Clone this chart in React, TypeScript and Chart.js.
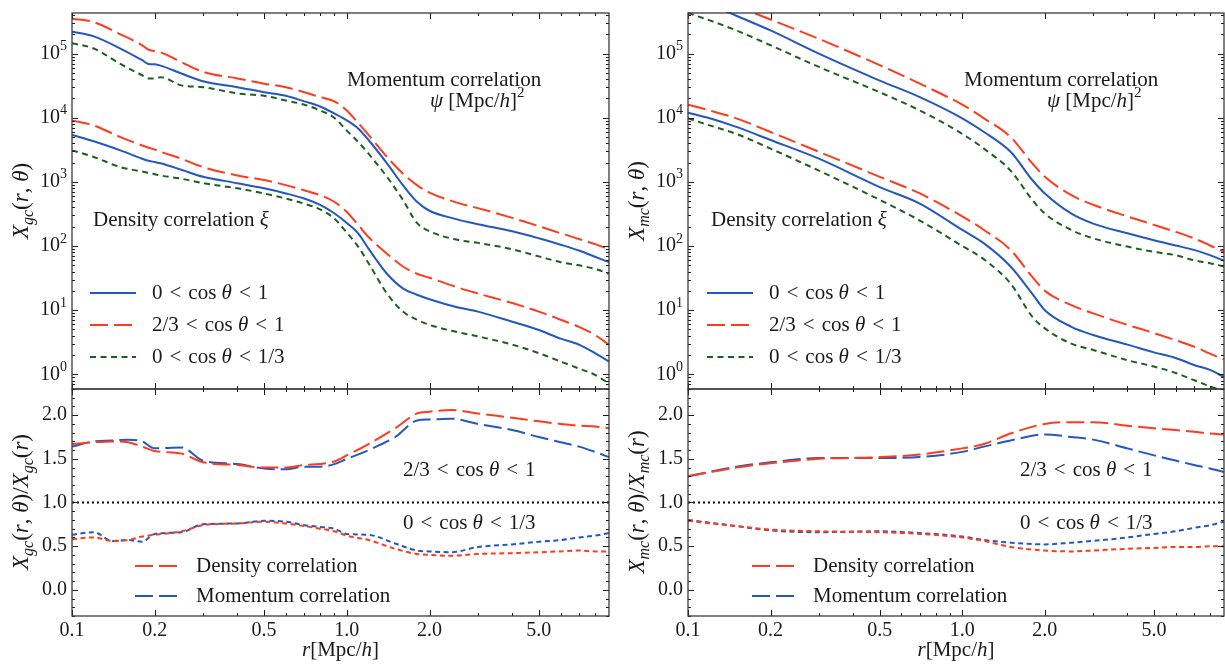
import React, { useEffect, useRef } from 'react';
import { Chart, registerables } from 'chart.js';

Chart.register(...registerables);

// ---- left column: galaxy-centre correlations X_gc ----
const rG = [0.1, 0.12, 0.15, 0.18, 0.19, 0.2, 0.21, 0.25, 0.3, 0.4, 0.5, 0.6, 0.7, 0.8, 0.9, 1.0, 1.1, 1.2, 1.4, 1.6, 1.8, 2.0, 2.5, 3.0, 4.0, 5.0, 6.0, 7.0, 8.0, 9.0];
const psiAllG = [2.2e5, 1.86e5, 1.2e5, 7.9e4, 6.9e4, 6.8e4, 6.5e4, 4.9e4, 3.7e4, 3.0e4, 2.5e4, 2.2e4, 1.8e4, 1.5e4, 1.17e4, 9100, 6800, 4500, 1950, 890, 490, 355, 263, 219, 170, 132, 105, 85, 68, 56];
const psiParG = [3.5e5, 3.1e5, 2.0e5, 1.35e5, 1.15e5, 1.1e5, 1.05e5, 7.4e4, 5.2e4, 4.1e4, 3.4e4, 3.0e4, 2.5e4, 2.1e4, 1.8e4, 1.3e4, 8300, 5400, 2450, 1350, 890, 680, 480, 390, 275, 204, 158, 129, 107, 89];
const psiPerpG = [1.45e5, 1.2e5, 6.9e4, 4.6e4, 4.1e4, 4.1e4, 4.3e4, 3.2e4, 3.0e4, 2.4e4, 2.2e4, 1.86e4, 1.6e4, 1.3e4, 1.0e4, 6300, 4200, 2750, 1200, 525, 229, 170, 126, 112, 89, 69, 56, 50, 44, 37];
const xiAllG = [5400, 4300, 3100, 2300, 2140, 2040, 1950, 1550, 1200, 955, 794, 661, 550, 437, 324, 229, 158, 91, 37, 21.9, 17.4, 14.8, 11.2, 9.5, 6.6, 4.9, 3.6, 2.9, 2.14, 1.58];
const xiParG = [9100, 7600, 5000, 3700, 3400, 3200, 2950, 2300, 1700, 1260, 1070, 890, 740, 620, 490, 340, 214, 138, 76, 48, 37, 32, 23, 18.2, 12.9, 9.5, 7.1, 5.5, 4.1, 2.9];
const xiPerpG = [3100, 2450, 1700, 1450, 1380, 1320, 1260, 1120, 955, 794, 661, 550, 457, 372, 269, 162, 98, 54, 18.2, 9.5, 7.1, 5.9, 4.6, 3.9, 2.9, 2.14, 1.58, 1.23, 0.98, 0.72];

const rGRatio = [0.1, 0.12, 0.14, 0.16, 0.18, 0.2, 0.25, 0.3, 0.4, 0.5, 0.6, 0.7, 0.8, 0.9, 1.0, 1.2, 1.5, 1.8, 2.0, 2.4, 3.0, 4.0, 5.0, 6.0, 7.0, 8.0, 9.0];
const densParG = [1.67, 1.69, 1.70, 1.69, 1.64, 1.59, 1.56, 1.46, 1.43, 1.40, 1.40, 1.43, 1.44, 1.47, 1.54, 1.67, 1.85, 2.02, 2.04, 2.06, 2.02, 1.97, 1.93, 1.90, 1.88, 1.87, 1.85];
const momParG = [1.64, 1.70, 1.71, 1.72, 1.70, 1.62, 1.63, 1.48, 1.44, 1.39, 1.38, 1.41, 1.41, 1.44, 1.50, 1.60, 1.75, 1.94, 1.95, 1.96, 1.90, 1.83, 1.75, 1.69, 1.64, 1.58, 1.52];
const densPerpG = [0.58, 0.60, 0.56, 0.57, 0.61, 0.63, 0.67, 0.74, 0.76, 0.78, 0.76, 0.73, 0.70, 0.67, 0.62, 0.57, 0.47, 0.41, 0.40, 0.39, 0.41, 0.42, 0.43, 0.44, 0.45, 0.44, 0.44];
const momPerpG = [0.63, 0.66, 0.56, 0.57, 0.55, 0.64, 0.66, 0.75, 0.76, 0.79, 0.78, 0.74, 0.72, 0.70, 0.64, 0.63, 0.53, 0.45, 0.44, 0.43, 0.49, 0.52, 0.55, 0.57, 0.60, 0.62, 0.65];

// ---- right column: matter-centre correlations X_mc ----
const rM = [0.1, 0.12, 0.15, 0.2, 0.3, 0.5, 0.7, 1.0, 1.2, 1.5, 1.8, 2.0, 2.5, 3.0, 4.0, 5.0, 6.0, 7.0, 8.0, 9.0];
const psiAllM = [8.1e5, 5.9e5, 3.9e5, 2.3e5, 1.0e5, 3.8e4, 2.1e4, 9800, 6000, 2950, 1070, 660, 320, 224, 158, 123, 102, 87, 72, 59];
const psiParM = [1.07e6, 7.9e5, 5.5e5, 3.4e5, 1.7e5, 6.6e4, 3.4e4, 1.6e4, 9800, 5000, 1950, 1200, 620, 440, 290, 214, 166, 132, 102, 81];
const psiPerpM = [4.3e5, 3.3e5, 2.3e5, 1.35e5, 6.2e4, 2.5e4, 1.3e4, 5600, 3300, 1500, 525, 320, 178, 132, 98, 81, 72, 60, 54, 48];
const xiAllM = [1.2e4, 9800, 7200, 4500, 2300, 830, 460, 178, 110, 48, 18, 10, 5.5, 4.1, 2.9, 2.2, 1.8, 1.4, 1.17, 0.91];
const xiParM = [1.6e4, 1.3e4, 9800, 6000, 2950, 1200, 660, 290, 178, 87, 33, 20, 12, 8.9, 5.9, 4.4, 3.4, 2.7, 2.1, 1.7];
const xiPerpM = [9800, 7600, 5600, 3300, 1500, 525, 250, 100, 62, 26, 7.9, 5.2, 3.0, 2.4, 1.66, 1.32, 1.05, 0.81, 0.65, 0.54];

const rMRatio = [0.1, 0.15, 0.2, 0.3, 0.5, 0.7, 1.0, 1.2, 1.5, 2.0, 2.5, 3.0, 4.0, 5.0, 6.0, 7.0, 8.0, 9.0];
const densParM = [1.30, 1.40, 1.45, 1.50, 1.52, 1.55, 1.62, 1.67, 1.79, 1.90, 1.92, 1.92, 1.88, 1.85, 1.83, 1.81, 1.79, 1.78];
const momParM = [1.30, 1.41, 1.46, 1.51, 1.51, 1.52, 1.58, 1.64, 1.71, 1.78, 1.75, 1.72, 1.62, 1.54, 1.48, 1.43, 1.39, 1.35];
const densPerpM = [0.79, 0.73, 0.69, 0.67, 0.66, 0.64, 0.60, 0.56, 0.49, 0.45, 0.44, 0.45, 0.47, 0.48, 0.49, 0.49, 0.50, 0.50];
const momPerpM = [0.80, 0.73, 0.68, 0.66, 0.67, 0.65, 0.61, 0.57, 0.54, 0.52, 0.54, 0.56, 0.60, 0.64, 0.67, 0.71, 0.74, 0.78];

const unityR = [0.1, 9.0];
const unity = [1, 1];

// axis ticks
const xMajor = [0.1, 0.2, 0.5, 1, 2, 5];
const xMinor = [0.3, 0.4, 0.6, 0.7, 0.8, 0.9, 3, 4, 6, 7, 8];
const logMajor = [1, 10, 100, 1e3, 1e4, 1e5];
const ratioMajor = [0, 0.5, 1.0, 1.5, 2.0];

const FONT = '"Liberation Serif", "DejaVu Serif", serif';
const BLUE = '#2357c2';
const RED = '#ff3b1d';
const GREEN = '#1d5f1d';
const INK = '#1a1a1a';
const LONG = [18, 6];
const SHORT = [6, 4.5];
const SHORT_R = [5, 3.5];
const SP = '\u2004'; // a bit wider than a normal space, like TeX's relation spacing

type Seg = { t: string; it?: boolean; sub?: boolean; sup?: boolean };
type Label = { segs: Seg[]; x: number; y: number; size?: number; align?: 'left' | 'center' | 'right'; rot?: boolean };
type Key = { x1: number; x2: number; y: number; color: string; dash: number[]; tx: number; segs: Seg[] };

const segFont = (s: Seg, size: number) =>
  `${s.it ? 'italic ' : ''}${s.sub || s.sup ? Math.round(size * 0.7) : size}px ${FONT}`;

function drawRich(ctx: CanvasRenderingContext2D, l: Label) {
  const size = l.size ?? 21;
  let w = 0;
  for (const s of l.segs) {
    ctx.font = segFont(s, size);
    w += ctx.measureText(s.t).width;
  }
  ctx.save();
  ctx.translate(l.x, l.y);
  if (l.rot) ctx.rotate(-Math.PI / 2);
  let cx = l.align === 'center' ? -w / 2 : l.align === 'right' ? -w : 0;
  ctx.textAlign = 'left';
  ctx.textBaseline = 'middle';
  ctx.fillStyle = INK;
  for (const s of l.segs) {
    ctx.font = segFont(s, size);
    const dy = s.sub ? size * 0.3 : s.sup ? -size * 0.36 : 0;
    ctx.fillText(s.t, cx, dy);
    cx += ctx.measureText(s.t).width;
  }
  ctx.restore();
}

const ineq = (lo: string, hi: string): Seg[] => [
  { t: lo + SP + '<' + SP + 'cos ' },
  { t: 'θ', it: true },
  { t: SP + '<' + SP + hi },
];
const xName = (sub: string): Seg[] => [{ t: 'X', it: true }, { t: sub, it: true, sub: true }];
const rTheta: Seg[] = [{ t: '(' }, { t: 'r', it: true }, { t: ', ' }, { t: 'θ', it: true }, { t: ')' }];
const rOnly: Seg[] = [{ t: '(' }, { t: 'r', it: true }, { t: ')' }];
const rUnit: Seg[] = [{ t: 'r', it: true }, { t: '[Mpc/' }, { t: 'h', it: true }, { t: ']' }];
const momText: Seg[] = [{ t: 'Momentum correlation' }];
const psiText: Seg[] = [{ t: 'ψ', it: true }, { t: ' [Mpc/' }, { t: 'h', it: true }, { t: ']' }, { t: '2', sup: true }];
const densText: Seg[] = [{ t: 'Density correlation ' }, { t: 'ξ', it: true }];

const line = (xs: number[], ys: number[], color: string, dash: number[], width = 2) => ({
  data: xs.map((x, i) => ({ x, y: ys[i] })),
  borderColor: color,
  backgroundColor: color,
  borderWidth: width,
  borderDash: dash,
  pointRadius: 0,
  fill: false,
  cubicInterpolationMode: 'monotone',
  clip: 1,
});

interface Spec {
  left: number;
  top: number;
  width: number;
  height: number;
  pad: { left: number; top: number; right: number; bottom: number };
  bottomAxis: boolean;
  log: boolean;
  yMin: number;
  yMax: number;
  datasets: any[];
  labels: Label[];
  keys: Key[];
}

function makeDeco(spec: Spec, yMinor: number[], yMajor: number[]) {
  return {
    id: 'deco',
    afterDraw(chart: any) {
      const ctx: CanvasRenderingContext2D = chart.ctx;
      const a = chart.chartArea;
      const xs = chart.scales.x;
      const ys = chart.scales.y;
      ctx.save();
      ctx.strokeStyle = INK;
      ctx.lineWidth = 1;
      const tickX = (vals: number[], len: number) =>
        vals.forEach((v) => {
          const p = Math.round(xs.getPixelForValue(v)) + 0.5;
          ctx.beginPath();
          ctx.moveTo(p, a.bottom);
          ctx.lineTo(p, a.bottom - len);
          ctx.moveTo(p, a.top);
          ctx.lineTo(p, a.top + len);
          ctx.stroke();
        });
      const tickY = (vals: number[], len: number) =>
        vals.forEach((v) => {
          const p = Math.round(ys.getPixelForValue(v)) + 0.5;
          ctx.beginPath();
          ctx.moveTo(a.left, p);
          ctx.lineTo(a.left + len, p);
          ctx.moveTo(a.right, p);
          ctx.lineTo(a.right - len, p);
          ctx.stroke();
        });
      tickX(xMajor, 6);
      tickX(xMinor, 3);
      tickY(yMajor, 6);
      tickY(yMinor, 3);
      ctx.strokeStyle = '#3a3a3a';
      ctx.lineWidth = 1.3;
      ctx.strokeRect(a.left, a.top, a.right - a.left, a.bottom - a.top);

      // log axis labels 10^n, drawn with a real superscript
      if (spec.log) {
        yMajor.forEach((v) => {
          const p = ys.getPixelForValue(v);
          drawRich(ctx, {
            segs: [{ t: '10' }, { t: String(Math.round(Math.log10(v))), sup: true }],
            x: a.left - 5,
            y: p,
            size: 20,
            align: 'right',
          });
        });
      }

      for (const k of spec.keys) {
        ctx.strokeStyle = k.color;
        ctx.lineWidth = 2;
        ctx.setLineDash(k.dash);
        ctx.beginPath();
        ctx.moveTo(k.x1 - spec.left, k.y - spec.top);
        ctx.lineTo(k.x2 - spec.left, k.y - spec.top);
        ctx.stroke();
        ctx.setLineDash([]);
        drawRich(ctx, { segs: k.segs, x: k.tx - spec.left, y: k.y - spec.top });
      }
      for (const l of spec.labels) {
        drawRich(ctx, { ...l, x: l.x - spec.left, y: l.y - spec.top });
      }
      ctx.restore();
    },
  };
}

function buildConfig(spec: Spec): any {
  const yMajor = spec.log ? logMajor : ratioMajor;
  const yMinor: number[] = [];
  if (spec.log) {
    for (let e = -1; e <= 5; e++) {
      for (let k = 2; k <= 9; k++) {
        const v = k * Math.pow(10, e);
        if (v > spec.yMin && v < spec.yMax) yMinor.push(v);
      }
    }
  } else {
    for (let k = -3; k <= 23; k++) if (k % 5 !== 0) yMinor.push(k / 10);
  }
  const tickFont = { family: FONT, size: 20 };
  return {
    type: 'line',
    data: { datasets: spec.datasets },
    options: {
      responsive: false,
      maintainAspectRatio: false,
      animation: false,
      events: [],
      layout: { padding: spec.pad },
      plugins: { legend: { display: false }, tooltip: { enabled: false } },
      scales: {
        x: {
          type: 'logarithmic',
          min: 0.1,
          max: 9.0,
          bounds: 'data',
          display: spec.bottomAxis,
          grid: { display: false, drawTicks: false },
          border: { display: false },
          afterBuildTicks: (s: any) => {
            s.ticks = xMajor.map((value) => ({ value }));
          },
          afterFit: (s: any) => {
            s.height = spec.bottomAxis ? 48 : 0;
            s.paddingLeft = 0;
            s.paddingRight = 0;
          },
          ticks: {
            font: tickFont,
            color: INK,
            padding: 3,
            maxRotation: 0,
            autoSkip: false,
            callback: (v: any) => Number(v).toFixed(1),
          },
        },
        y: {
          type: spec.log ? 'logarithmic' : 'linear',
          min: spec.yMin,
          max: spec.yMax,
          bounds: 'data',
          grid: { display: false, drawTicks: false },
          border: { display: false },
          afterBuildTicks: (s: any) => {
            s.ticks = yMajor.map((value) => ({ value }));
          },
          afterFit: (s: any) => {
            s.width = 72;
            s.paddingTop = 0;
            s.paddingBottom = 0;
          },
          ticks: {
            display: !spec.log,
            font: tickFont,
            color: INK,
            padding: 5,
            autoSkip: false,
            callback: (v: any) => Number(v).toFixed(1),
          },
        },
      },
    },
    plugins: [makeDeco(spec, yMinor, yMajor)],
  };
}

function Panel({ spec }: { spec: Spec }) {
  const ref = useRef<HTMLCanvasElement>(null);
  useEffect(() => {
    if (!ref.current) return;
    const chart = new Chart(ref.current, buildConfig(spec));
    return () => chart.destroy();
  }, [spec]);
  return (
    <canvas
      ref={ref}
      width={spec.width}
      height={spec.height}
      style={{ position: 'absolute', left: spec.left, top: spec.top, width: spec.width, height: spec.height }}
    />
  );
}

const topKeys = (lineL: number, textL: number): Key[] => [
  { x1: lineL, x2: lineL + 46, y: 293, color: BLUE, dash: [], tx: textL, segs: ineq('0', '1') },
  { x1: lineL, x2: lineL + 46, y: 325, color: RED, dash: LONG, tx: textL, segs: ineq('2/3', '1') },
  { x1: lineL, x2: lineL + 46, y: 357, color: GREEN, dash: SHORT, tx: textL, segs: ineq('0', '1/3') },
];
const bottomKeys = (lineL: number, textL: number): Key[] => [
  { x1: lineL, x2: lineL + 43, y: 566, color: RED, dash: LONG, tx: textL, segs: [{ t: 'Density correlation' }] },
  { x1: lineL, x2: lineL + 43, y: 596, color: BLUE, dash: LONG, tx: textL, segs: [{ t: 'Momentum correlation' }] },
];

const specs: Spec[] = [
  {
    left: 0, top: 0, width: 620, height: 392,
    pad: { left: 0, top: 13, right: 11, bottom: 3 },
    bottomAxis: false, log: true, yMin: 0.59, yMax: 4.3e5,
    datasets: [
      line(rG, psiParG, RED, LONG), line(rG, psiAllG, BLUE, []), line(rG, psiPerpG, GREEN, SHORT),
      line(rG, xiParG, RED, LONG), line(rG, xiAllG, BLUE, []), line(rG, xiPerpG, GREEN, SHORT),
    ],
    labels: [
      { segs: [...xName('gc'), ...rTheta], x: 22, y: 201, size: 23, align: 'center', rot: true },
      { segs: momText, x: 347, y: 80 },
      { segs: psiText, x: 430, y: 101 },
      { segs: densText, x: 93, y: 220 },
    ],
    keys: topKeys(90, 152),
  },
  {
    left: 0, top: 386, width: 620, height: 278,
    pad: { left: 0, top: 3, right: 11, bottom: 0 },
    bottomAxis: true, log: false, yMin: -0.3, yMax: 2.3,
    datasets: [
      line(unityR, unity, '#000', [2, 3], 2),
      line(rGRatio, densParG, RED, LONG), line(rGRatio, momParG, BLUE, LONG),
      line(rGRatio, densPerpG, RED, SHORT_R), line(rGRatio, momPerpG, BLUE, SHORT_R),
    ],
    labels: [
      { segs: [...xName('gc'), ...rTheta, { t: '/' }, ...xName('gc'), ...rOnly], x: 22, y: 502, size: 23, align: 'center', rot: true },
      { segs: rUnit, x: 340.5, y: 650, align: 'center' },
      { segs: ineq('2/3', '1'), x: 403, y: 470 },
      { segs: ineq('0', '1/3'), x: 403, y: 523 },
    ],
    keys: bottomKeys(135, 196),
  },
  {
    left: 616, top: 0, width: 610, height: 392,
    pad: { left: 0, top: 13, right: 2, bottom: 3 },
    bottomAxis: false, log: true, yMin: 0.59, yMax: 4.3e5,
    datasets: [
      line(rM, psiParM, RED, LONG), line(rM, psiAllM, BLUE, []), line(rM, psiPerpM, GREEN, SHORT),
      line(rM, xiParM, RED, LONG), line(rM, xiAllM, BLUE, []), line(rM, xiPerpM, GREEN, SHORT),
    ],
    labels: [
      { segs: [...xName('mc'), ...rTheta], x: 638, y: 201, size: 23, align: 'center', rot: true },
      { segs: momText, x: 964, y: 80 },
      { segs: psiText, x: 1047, y: 101 },
      { segs: densText, x: 711, y: 220 },
    ],
    keys: topKeys(707, 769),
  },
  {
    left: 616, top: 386, width: 610, height: 278,
    pad: { left: 0, top: 3, right: 2, bottom: 0 },
    bottomAxis: true, log: false, yMin: -0.3, yMax: 2.3,
    datasets: [
      line(unityR, unity, '#000', [2, 3], 2),
      line(rMRatio, densParM, RED, LONG), line(rMRatio, momParM, BLUE, LONG),
      line(rMRatio, densPerpM, RED, SHORT_R), line(rMRatio, momPerpM, BLUE, SHORT_R),
    ],
    labels: [
      { segs: [...xName('mc'), ...rTheta, { t: '/' }, ...xName('mc'), ...rOnly], x: 638, y: 502, size: 23, align: 'center', rot: true },
      { segs: rUnit, x: 956, y: 650, align: 'center' },
      { segs: ineq('2/3', '1'), x: 1020, y: 470 },
      { segs: ineq('0', '1/3'), x: 1020, y: 523 },
    ],
    keys: bottomKeys(752, 813),
  },
];

export default function App() {
  return (
    <div
      style={{ position: 'absolute', left: 0, top: 0, width: 1225, height: 664, overflow: 'hidden', background: '#fff' }}
    >
      {specs.map((s, i) => (
        <Panel key={i} spec={s} />
      ))}
    </div>
  );
}
